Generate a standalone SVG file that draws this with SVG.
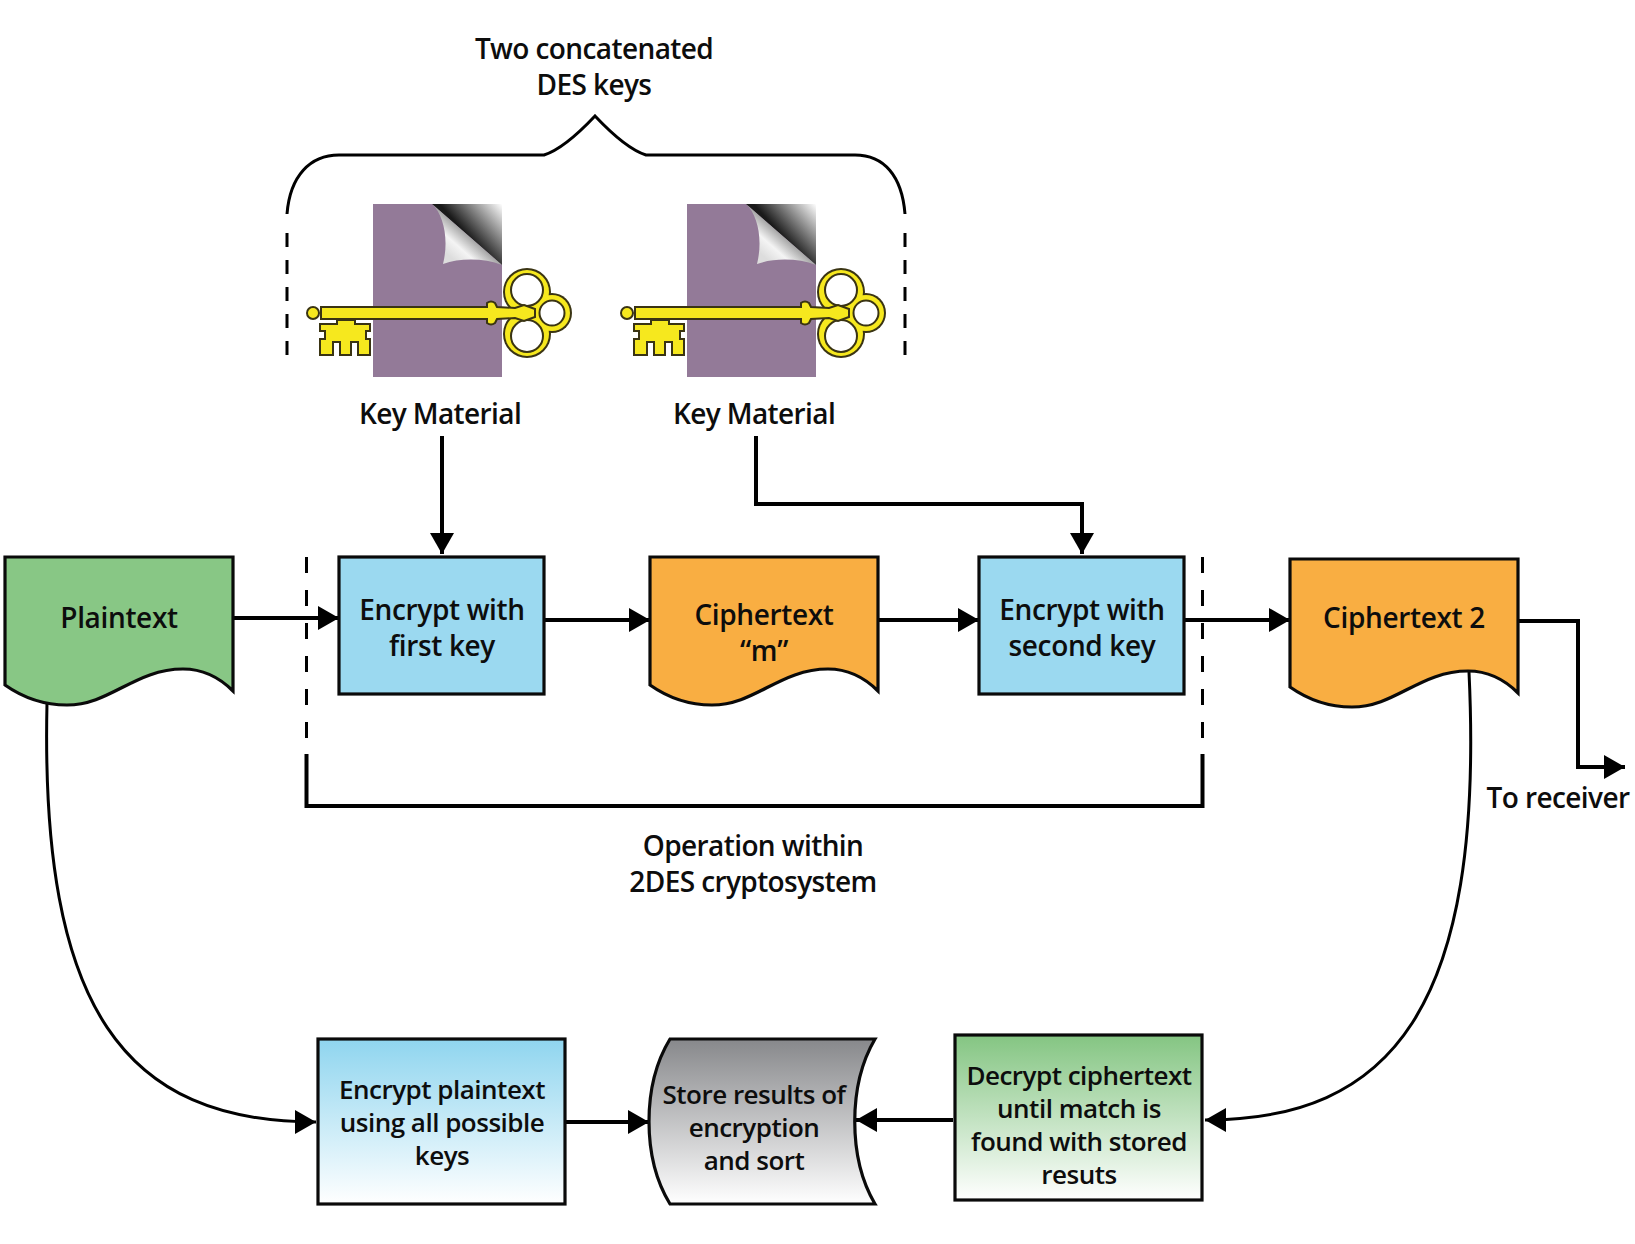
<svg xmlns="http://www.w3.org/2000/svg" xmlns:xlink="http://www.w3.org/1999/xlink" width="1635" height="1244" viewBox="0 0 1635 1244">
<style>
text{font-family:"Open Sans","Liberation Sans",sans-serif;font-weight:600;font-size:28px;letter-spacing:-.6px;fill:#0d0d0d;text-anchor:middle}
text.wide{letter-spacing:-.35px}
text.small{font-size:26px;letter-spacing:-.5px}
.box{stroke:#0a0a0a;stroke-width:3.2}
.line{fill:none;stroke:#000;stroke-width:4}
.arrow{marker-end:url(#tip)}
.thin{fill:none;stroke:#000;stroke-width:3}
.dash{fill:none;stroke:#000;stroke-width:3}
.keyline{stroke:#3a3413;stroke-width:2;fill:#f6e81e}
</style>
<defs>
<marker id="tip" markerUnits="userSpaceOnUse" markerWidth="22" markerHeight="26" refX="21" refY="12.500" orient="auto"><path d="M0 0.500L21 12.500L0 24.500Z" fill="#000"/></marker>
<linearGradient id="gBlue" x1="0" y1="0" x2="0" y2="1"><stop offset="0" stop-color="#8fd5ef"/><stop offset="1" stop-color="#fff"/></linearGradient>
<linearGradient id="gGrey" x1="0" y1="0" x2="0" y2="1"><stop offset="0" stop-color="#87888b"/><stop offset="1" stop-color="#fff"/></linearGradient>
<linearGradient id="gGreen" x1="0" y1="0" x2="0" y2="1"><stop offset="0" stop-color="#84c582"/><stop offset="1" stop-color="#fff"/></linearGradient>
<linearGradient id="gFold" gradientUnits="userSpaceOnUse" x1="467" y1="235" x2="502" y2="204"><stop offset="0" stop-color="#1a1a1a"/><stop offset="1" stop-color="#fff"/></linearGradient>
<linearGradient id="gCurl" gradientUnits="userSpaceOnUse" x1="470" y1="230" x2="448" y2="255"><stop offset="0" stop-color="#8a8a8a"/><stop offset="0.600" stop-color="#f4f4f4"/><stop offset="1" stop-color="#ddd"/></linearGradient>
<path id="wave" d="M0 128C17 140 38 148 62 148C105 148 130 112 178 112C200 112 216 122 228 134V0H0Z"/>
<g id="keyDoc">
<rect x="373" y="204" width="129" height="173" fill="#937a98"/>
<path d="M432 204L502 265V204Z" fill="url(#gFold)"/>
<path d="M432 204C444 215 449 240 443 264C460 258 484 258 502 265Z" fill="url(#gCurl)"/>
<!-- bow of the key: three overlapping rings with separate holes -->
<g fill="#3a3413"><circle cx="527" cy="292" r="24"/><circle cx="527" cy="334" r="24"/><circle cx="552" cy="313" r="20"/></g>
<g fill="#f6e81e"><circle cx="527" cy="292" r="22"/><circle cx="527" cy="334" r="22"/><circle cx="552" cy="313" r="18"/></g>
<g fill="#fff" stroke="#3a3413" stroke-width="2"><circle cx="527" cy="290" r="16"/><circle cx="527" cy="336" r="16"/><circle cx="552" cy="313" r="12.500"/></g>
<path class="keyline" d="M321 307H487V303Q491 300 495 303L497 307L515 308L524 305L535 309V317L524 321L515 318L497 319L495 323Q491 326 487 323V319H321Z"/>
<circle class="keyline" cx="313" cy="313" r="6"/>
<path class="keyline" d="M337 320H355V324H370V331H366V339H370V355H358V342H351V355H340V342H333V355H320V339H325V331H320V324H337Z"/>
</g>
</defs>

<g id="connectors">
<path class="thin" d="M287 214C290 176 310 155 339 155H544C560 150 578 134 595 116C612 134 630 150 646 155H855C884 155 902 176 905 214"/>
<path class="dash" stroke-dasharray="14 13" d="M287 233V355"/>
<path class="dash" stroke-dasharray="14 13" d="M905 233V355"/>
<path class="dash" stroke-dasharray="16 17" d="M306.500 557V738"/>
<path class="dash" stroke-dasharray="16 17" d="M1202.500 557V738"/>
<path class="line" d="M306.500 754V806H1202.500V754"/>
<path class="line arrow" d="M442 436V554"/>
<path class="line arrow" d="M756 436V504H1082V554"/>
<path class="line arrow" d="M233 618H339"/>
<path class="line arrow" d="M544 620H650"/>
<path class="line arrow" d="M878 620H979"/>
<path class="line arrow" d="M1184 620H1290"/>
<path class="line arrow" d="M1518 621H1578V767H1625"/>
<path class="thin arrow" d="M47 703C40 1010 125 1122 316 1122"/>
<path class="thin arrow" d="M1469 672C1485 1010 1390 1120 1205 1120"/>
<path class="line arrow" d="M565 1122H649"/>
<path class="line arrow" d="M953 1120H856"/>
</g>

<g id="brace-label"><text x="594" y="59">Two concatenated</text><text x="594" y="95">DES keys</text></g>
<g id="key-1"><use href="#keyDoc"/><text x="440" y="424">Key Material</text></g>
<g id="key-2"><use href="#keyDoc" x="314"/><text x="754" y="424">Key Material</text></g>

<g id="plaintext"><use href="#wave" x="5" y="557" fill="#88c785" class="box"/><text class="wide" x="119" y="628">Plaintext</text></g>
<g id="encrypt-first"><rect class="box" x="339" y="557" width="205" height="137" fill="#9bd9f0"/><text class="wide" x="442" y="620">Encrypt with</text><text class="wide" x="442" y="656">first key</text></g>
<g id="ciphertext-m"><use href="#wave" x="650" y="557" fill="#f9ae42" class="box"/><text class="wide" x="764" y="625">Ciphertext</text><text class="wide" x="764" y="661">“m”</text></g>
<g id="encrypt-second"><rect class="box" x="979" y="557" width="205" height="137" fill="#9bd9f0"/><text class="wide" x="1082" y="620">Encrypt with</text><text class="wide" x="1082" y="656">second key</text></g>
<g id="ciphertext-2"><use href="#wave" x="1290" y="559" fill="#f9ae42" class="box"/><text class="wide" x="1404" y="628">Ciphertext 2</text></g>
<g id="to-receiver"><text x="1558" y="808">To receiver</text></g>
<g id="operation-label"><text x="753" y="856">Operation within</text><text x="753" y="892">2DES cryptosystem</text></g>

<g id="encrypt-plaintext"><rect class="box" x="318" y="1039" width="247" height="165" fill="url(#gBlue)"/><text class="small" x="442" y="1099">Encrypt plaintext</text><text class="small" x="442" y="1132">using all possible</text><text class="small" x="442" y="1165">keys</text></g>
<g id="store-results"><path class="box" d="M670 1039H875C848 1085 848 1158 875 1204H670C642 1158 642 1085 670 1039Z" fill="url(#gGrey)"/><text class="small" x="754" y="1104">Store results of</text><text class="small" x="754" y="1137">encryption</text><text class="small" x="754" y="1170">and sort</text></g>
<g id="decrypt"><rect class="box" x="955" y="1035" width="247" height="165" fill="url(#gGreen)"/><text class="small" x="1079" y="1085">Decrypt ciphertext</text><text class="small" x="1079" y="1118">until match is</text><text class="small" x="1079" y="1151">found with stored</text><text class="small" x="1079" y="1184">resuts</text></g>
</svg>
